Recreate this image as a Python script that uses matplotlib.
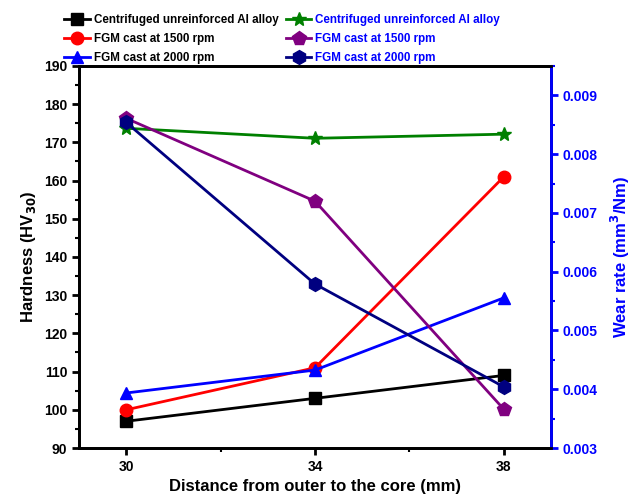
import matplotlib
matplotlib.use("Agg")
import matplotlib.pyplot as plt
from matplotlib.ticker import MultipleLocator

plt.rcParams['font.family'] = ['Liberation Sans', 'DejaVu Sans']
plt.rcParams['font.weight'] = 'bold'

dist = [30, 34, 38]

# hardness (left axis)
hv_unreinf = [97, 103, 109]
hv_1500 = [100, 111, 161]
hv_2000 = [104.4, 110.4, 129.3]

# wear rate (right axis)
wr_unreinf = [0.00844, 0.00827, 0.00834]
wr_1500 = [0.00861, 0.0072, 0.00366]
wr_2000 = [0.00854, 0.00579, 0.00404]

labels = ["Centrifuged unreinforced Al alloy", "FGM cast at 1500 rpm", "FGM cast at 2000 rpm"]

fig = plt.figure(figsize=(6.38, 4.99), dpi=100)
ax = fig.add_axes([79/638, 51/499, 472/638, 382/499])
ax2 = ax.twinx()

lw = 2
ms = 9
h1, = ax.plot(dist, hv_unreinf, color='black', marker='s', lw=lw, ms=ms, label=labels[0])
h2, = ax.plot(dist, hv_1500, color='red', marker='o', lw=lw, ms=ms, label=labels[1])
h3, = ax.plot(dist, hv_2000, color='blue', marker='^', lw=lw, ms=ms, label=labels[2])
h4, = ax2.plot(dist, wr_unreinf, color='#008000', marker='*', lw=lw, ms=ms + 1, label=labels[0])
h5, = ax2.plot(dist, wr_1500, color='#800080', marker='p', lw=lw, ms=ms + 1, label=labels[1])
h6, = ax2.plot(dist, wr_2000, color='#000080', marker='h', lw=lw, ms=ms + 1, label=labels[2])

ax.set_xlim(29, 39)
ax.set_ylim(90, 190)
ax2.set_ylim(0.003, 0.0095)
ax.set_xticks(dist)
ax.xaxis.set_minor_locator(MultipleLocator(2))
ax.yaxis.set_major_locator(MultipleLocator(10))
ax.yaxis.set_minor_locator(MultipleLocator(5))
ax2.set_yticks([0.003, 0.004, 0.005, 0.006, 0.007, 0.008, 0.009])
ax2.set_yticklabels(["0.003", "0.004", "0.005", "0.006", "0.007", "0.008", "0.009"])
ax2.yaxis.set_minor_locator(MultipleLocator(0.0005))

for a in (ax, ax2):
    for s in a.spines.values():
        s.set_linewidth(2)
ax2.spines['right'].set_color('blue')
ax.tick_params(which='major', width=2, length=5, labelsize=10)
ax.tick_params(which='minor', width=1.5, length=3)
ax2.tick_params(axis='y', which='major', width=2, length=5, labelsize=10, colors='blue')
ax2.tick_params(axis='y', which='minor', width=1.5, length=3, colors='blue')

ax.set_xlabel("Distance from outer to the core (mm)", fontsize=12, fontweight='bold')
ax.set_ylabel("Hardness (HV$_{\\mathbf{30}}$)", fontsize=12, fontweight='bold')
ax2.set_ylabel("Wear rate (mm$^{\\mathbf{3}}$/Nm)", fontsize=12, fontweight='bold',
               color='blue', labelpad=8)

leg = fig.legend([h1, h2, h3, h4, h5, h6], labels + labels, ncol=2, frameon=False,
                 loc='upper left', bbox_to_anchor=(56/638, 1 - 6/499),
                 prop={'size': 8.4, 'weight': 'bold'}, handlelength=2.2,
                 handletextpad=0.35, columnspacing=0.6, labelspacing=0.6,
                 borderpad=0.2)
for t in leg.get_texts()[3:]:
    t.set_color('blue')

fig.savefig("out.png", dpi=100)
